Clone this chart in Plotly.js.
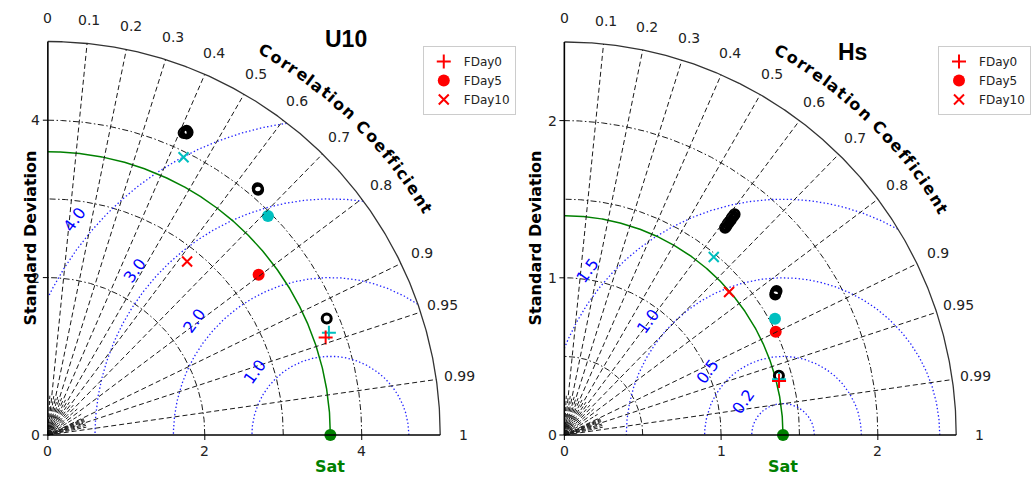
<!DOCTYPE html>
<html><head><meta charset="utf-8">
<script src="https://cdn.plot.ly/plotly-3.0.1.min.js"></script>
<style>html,body{margin:0;padding:0;background:#fff}#chart{width:1031px;height:479px}</style>
</head><body><div id="chart"></div>
<script>
// ---------------- data ----------------
const seriesNames = ['FDay0', 'FDay5', 'FDay10'];
const refLabel = 'Sat';
const yLabel = 'Standard Deviation';
const corrLabel = 'Correlation Coefficient';
const corrTicks = [0, 0.1, 0.2, 0.3, 0.4, 0.5, 0.6, 0.7, 0.8, 0.9, 0.95, 0.99, 1];
const corrTickLabels = ['0', '0.1', '0.2', '0.3', '0.4', '0.5', '0.6', '0.7', '0.8', '0.9', '0.95', '0.99', '1'];
const corrMinor = [0.05, 0.15, 0.25, 0.35, 0.45, 0.55, 0.65, 0.75, 0.85, 0.91, 0.92, 0.93, 0.94, 0.96, 0.97, 0.98];

// U10 panel
const u10Title = 'U10';
const u10Max = 5;
const u10Ref = 3.6;
const u10StdTicks = [0, 2, 4];
const u10StdArcs = [2, 3, 4];
const u10RmsLevels = [1, 2, 3, 4];
const u10RmsLabels = ['1.0', '2.0', '3.0', '4.0'];
const u10RedStd = [3.75, 3.37, 2.83];
const u10RedCorr = [0.944, 0.797, 0.627];
const u10CyanStd = [3.81, 3.95, 3.93];
const u10CyanCorr = [0.940, 0.710, 0.440];
const u10BlackStd = [4.21, 4.23, 4.25, 4.24, 4.22, 4.11, 4.12, 3.85];
const u10BlackCorr = [0.411, 0.413, 0.416, 0.420, 0.419, 0.652, 0.649, 0.923];

// Hs panel
const hsTitle = 'Hs';
const hsMax = 2.5;
const hsRef = 1.395;
const hsStdTicks = [0, 1, 2];
const hsStdArcs = [0.5, 1, 1.5, 2];
const hsRmsLevels = [0.2, 0.5, 1.0, 1.5];
const hsRmsLabels = ['0.2', '0.5', '1.0', '1.5'];
const hsRedStd = [1.412, 1.50, 1.39];
const hsRedCorr = [0.970, 0.899, 0.756];
const hsCyanStd = [1.415, 1.534, 1.48];
const hsCyanCorr = [0.968, 0.876, 0.644];
const hsBlackStd = [1.67, 1.685, 1.70, 1.715, 1.73, 1.745, 1.76, 1.775, 1.615, 1.625, 1.635, 1.42];
const hsBlackCorr = [0.614, 0.614, 0.613, 0.613, 0.613, 0.612, 0.612, 0.612, 0.833, 0.830, 0.828, 0.964];

// ---------------- drawing ----------------
const W = 1031, H = 479;
const DEG = Math.PI / 180;
const FONT = 'DejaVu Sans';
const traces = [], shapes = [], annotations = [];

function toXY(std, corr) {
  const x = [], y = [];
  for (let i = 0; i < std.length; i++) {
    x.push(std[i] * corr[i]);
    y.push(std[i] * Math.sqrt(Math.max(0, 1 - corr[i] * corr[i])));
  }
  return {x, y};
}

function lineTrace(xa, ya, x, y, color, width, dash) {
  traces.push({type: 'scatter', mode: 'lines', x, y, xaxis: xa, yaxis: ya,
    line: {color, width, dash: dash || 'solid'}, hoverinfo: 'skip', showlegend: false});
}

function arc(r, a0, a1) {
  const x = [], y = [];
  for (let a = a0; a <= a1 + 1e-9; a += 0.25) { x.push(r * Math.cos(a * DEG)); y.push(r * Math.sin(a * DEG)); }
  return {x, y};
}

function panel(p) {
  const xa = p.xa, ya = p.ya, xr = xa === 'x' ? 'x' : 'x2', yr = ya === 'y' ? 'y' : 'y2';
  const R = p.rmax, s = p.scale;
  // correlation minor lines near origin
  corrMinor.forEach(c => {
    const a = Math.acos(c);
    shapes.push({type: 'line', xref: xr, yref: yr, x0: 0, y0: 0, x1: 0.1 * R * Math.cos(a), y1: 0.1 * R * Math.sin(a),
      line: {color: '#222', width: 1, dash: '4px,2px'}});
  });
  // small arcs near origin
  [5 / s].forEach(r => { const a = arc(r, 0, 90); lineTrace(xa, ya, a.x, a.y, '#111', 1.5); });
  // correlation major lines
  corrTicks.slice(1, -1).forEach(c => {
    const a = Math.acos(c);
    shapes.push({type: 'line', xref: xr, yref: yr, x0: 0, y0: 0, x1: R * Math.cos(a), y1: R * Math.sin(a),
      line: {color: '#1a1a1a', width: 1, dash: '5px,3px'}});
  });
  // std arcs
  p.stdArcs.forEach(r => { const a = arc(r, 0, 90); lineTrace(xa, ya, a.x, a.y, '#1a1a1a', 1, '6px,2.5px,1.5px,2.5px'); });
  // RMS contours
  p.rms.forEach((rr, i) => {
    const x = [], y = [];
    for (let t = 0; t <= 180; t += 0.2) {
      const px = p.ref + rr * Math.cos(t * DEG), py = rr * Math.sin(t * DEG);
      if (px < 0 || px * px + py * py > R * R) { x.push(null); y.push(null); }
      else { x.push(px); y.push(py); }
    }
    lineTrace(xa, ya, x, y, '#2020ff', 1.3, '1.4px,2.3px');
    const t = 140 * DEG, off = 20 / s;
    annotations.push({xref: xr, yref: yr, x: p.ref + (rr + off) * Math.cos(t), y: (rr + off) * Math.sin(t),
      text: p.rmsLabels[i], showarrow: false, textangle: -54, font: {family: FONT, size: 16, color: '#0000ff'}});
  });
  // reference arc
  const ga = arc(p.ref, 0, 90); lineTrace(xa, ya, ga.x, ga.y, '#008000', 1.5);
  // outer arc
  const oa = arc(R, 0, 90); lineTrace(xa, ya, oa.x, oa.y, '#333', 1.3);
  // axes
  shapes.push({type: 'line', xref: xr, yref: yr, x0: 0, y0: 0, x1: R, y1: 0, line: {color: '#000', width: 1.6}});
  shapes.push({type: 'line', xref: xr, yref: yr, x0: 0, y0: 0, x1: 0, y1: R, line: {color: '#000', width: 1.6}});
  p.stdTicks.forEach(t => {
    shapes.push({type: 'line', xref: xr, yref: yr, x0: t, y0: 0, x1: t, y1: -5 / s, line: {color: '#000', width: 1}});
    shapes.push({type: 'line', xref: xr, yref: yr, x0: 0, y0: t, x1: -5 / s, y1: t, line: {color: '#000', width: 1}});
    annotations.push({xref: xr, yref: yr, x: t, y: 0, yshift: -16, text: String(t), showarrow: false,
      font: {family: FONT, size: 14, color: '#222'}});
    annotations.push({xref: xr, yref: yr, x: 0, y: t, xshift: -12, text: String(t), showarrow: false,
      font: {family: FONT, size: 14, color: '#222'}});
  });
  // correlation tick labels
  corrTicks.forEach((c, i) => {
    const a = Math.acos(c), r = 1.06 * R;
    annotations.push({xref: xr, yref: yr, x: r * Math.cos(a), y: r * Math.sin(a), text: corrTickLabels[i],
      showarrow: false, font: {family: FONT, size: 14, color: '#222'}});
  });
  // curved "Correlation Coefficient"
  const wid = {C: .734, o: .687, r: .493, e: .678, l: .343, a: .675, t: .478, i: .343, n: .712, ' ': .348, f: .435, c: .593};
  const chars = corrLabel.split('');
  const centers = []; let acc = 0;
  chars.forEach(ch => { const w = wid[ch] || .6; centers.push(acc + w / 2); acc += w; });
  const c0 = centers[0], c1 = centers[centers.length - 1];
  const a0 = 60.5, a1 = 30.8, rr = 1.122 * R;
  chars.forEach((ch, k) => {
    if (ch === ' ') return;
    const ang = a0 + (a1 - a0) * (centers[k] - c0) / (c1 - c0);
    annotations.push({xref: xr, yref: yr, x: rr * Math.cos(ang * DEG), y: rr * Math.sin(ang * DEG), text: '<b>' + ch + '</b>',
      showarrow: false, textangle: 90 - ang, font: {family: FONT, size: 16, color: '#000'}});
  });
  // Sat label
  annotations.push({xref: xr, yref: yr, x: p.ref, y: 0, yshift: -31, text: '<b>' + refLabel + '</b>', showarrow: false,
    font: {family: FONT, size: 16, color: '#008000'}});
  // Y label
  annotations.push({xref: 'paper', yref: 'paper', x: p.ylabX / W, y: 1 - 238 / H, text: '<b>' + yLabel + '</b>',
    textangle: -90, showarrow: false, font: {family: FONT, size: 16, color: '#000'}});
  // title
  annotations.push({xref: 'paper', yref: 'paper', x: p.titleX / W, y: 1 - p.titleY / H, text: '<b>' + p.title + '</b>',
    showarrow: false, font: {family: 'Liberation Sans', size: 23, color: '#000'}});

  // markers
  const blk = toXY(p.blackStd, p.blackCorr);
  traces.push({type: 'scatter', mode: 'markers', x: blk.x, y: blk.y, xaxis: xa, yaxis: ya, showlegend: false, hoverinfo: 'skip',
    marker: {symbol: 'circle-open', size: 9, color: '#000', line: {width: 3, color: '#000'}}, cliponaxis: false});
  const syms = ['cross-thin', 'circle', 'x-thin'];
  const sizes = [10, 12, 10];
  [['#00bfbf', p.cyanStd, p.cyanCorr, false], ['#ff0000', p.redStd, p.redCorr, true]].forEach(([col, sd, cr, leg]) => {
    for (let i = 0; i < sd.length; i++) {
      const q = toXY([sd[i]], [cr[i]]);
      const m = syms[i] === 'circle' ? {symbol: 'circle', size: 12, color: col}
        : {symbol: syms[i], size: sizes[i], color: col, line: {width: 2, color: col}};
      traces.push({type: 'scatter', mode: 'markers', x: q.x, y: q.y, xaxis: xa, yaxis: ya, name: seriesNames[i],
        showlegend: leg, legend: p.legend, hoverinfo: 'skip', marker: m, cliponaxis: false});
    }
  });
  traces.push({type: 'scatter', mode: 'markers', x: [p.ref], y: [0], xaxis: xa, yaxis: ya, showlegend: false, hoverinfo: 'skip',
    marker: {symbol: 'circle', size: 12, color: '#008000'}, cliponaxis: false});
}

// pixel geometry: origin and pixels per unit
const L = {ox: 48, oy: 435, s: 78.7};
const Rt = {ox: 566, oy: 435, s: 157.2};

panel({xa: 'x', ya: 'y', rmax: u10Max, ref: u10Ref, scale: L.s, stdTicks: u10StdTicks, stdArcs: u10StdArcs,
  rms: u10RmsLevels, rmsLabels: u10RmsLabels, redStd: u10RedStd, redCorr: u10RedCorr, cyanStd: u10CyanStd,
  cyanCorr: u10CyanCorr, blackStd: u10BlackStd, blackCorr: u10BlackCorr, legend: 'legend', ylabX: 19,
  title: u10Title, titleX: 347, titleY: 24});
panel({xa: 'x2', ya: 'y2', rmax: hsMax, ref: hsRef, scale: Rt.s, stdTicks: hsStdTicks, stdArcs: hsStdArcs,
  rms: hsRmsLevels, rmsLabels: hsRmsLabels, redStd: hsRedStd, redCorr: hsRedCorr, cyanStd: hsCyanStd,
  cyanCorr: hsCyanCorr, blackStd: hsBlackStd, blackCorr: hsBlackCorr, legend: 'legend2', ylabX: 537,
  title: hsTitle, titleX: 872, titleY: 37});

function ax(g, dom0, dom1, pxa, pxb, isY) {
  const range = isY ? [(g.oy - H) / g.s, g.oy / g.s] : [(pxa - g.ox) / g.s, (pxb - g.ox) / g.s];
  return {domain: [dom0, dom1], range, visible: false, fixedrange: true, showgrid: false, zeroline: false};
}

const legendBase = {xanchor: 'left', yanchor: 'top', bgcolor: '#fff', bordercolor: '#cccccc', borderwidth: 1,
  font: {family: FONT, size: 12, color: '#222'}, tracegroupgap: 0};

const layout = {
  width: W, height: H, margin: {l: 0, r: 0, t: 0, b: 0}, paper_bgcolor: '#fff', plot_bgcolor: 'rgba(0,0,0,0)',
  xaxis: Object.assign(ax(L, 0, 515 / W, 0, 515, false), {anchor: 'y'}),
  yaxis: Object.assign(ax(L, 0, 1, 0, 0, true), {anchor: 'x'}),
  xaxis2: Object.assign(ax(Rt, 516 / W, 1, 516, 1031, false), {anchor: 'y2'}),
  yaxis2: Object.assign(ax(Rt, 0, 1, 0, 0, true), {anchor: 'x2'}),
  showlegend: true,
  legend: Object.assign({}, legendBase, {x: 424 / W, y: 1 - 46 / H}),
  legend2: Object.assign({}, legendBase, {x: 941 / W, y: 1 - 46 / H}),
  shapes, annotations, hovermode: false
};

Plotly.newPlot('chart', traces, layout, {staticPlot: true, displayModeBar: false});
</script>
</body></html>
